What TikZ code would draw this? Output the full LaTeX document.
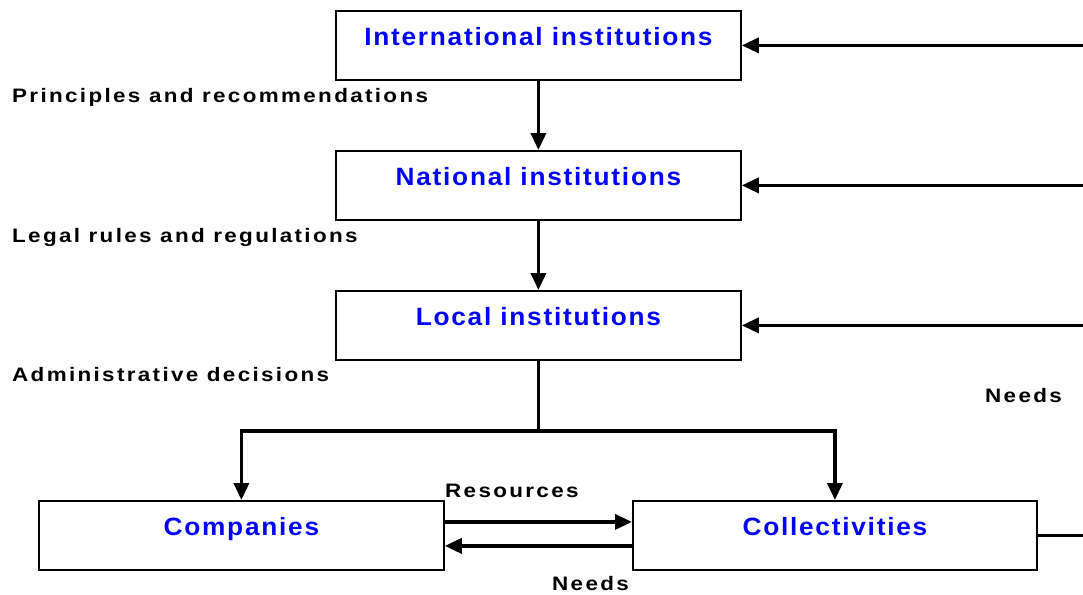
\documentclass[tikz,border=0pt]{standalone}
\usepackage{fontspec}
\setmainfont{Liberation Sans}
\newfontfamily\boxfont[LetterSpace=7,FakeStretch=1.05]{Liberation Sans Bold}
\newfontfamily\labfont[LetterSpace=12,FakeStretch=1.15]{Liberation Sans Bold}
\usetikzlibrary{arrows.meta}
\definecolor{boxblue}{RGB}{0,0,255}
\tikzset{
  inst/.style={draw=black, line width=1.8pt, fill=white, inner sep=0pt,
    minimum width=405pt, text height=35pt, text depth=34pt,
    anchor=north west, font=\boxfont\fontsize{25}{25}\selectfont, text=boxblue},
  lab/.style={anchor=base west, inner sep=0pt, font=\labfont\fontsize{19.5}{19.5}\selectfont},
  conn/.style={line width=3.5pt, draw=black},
  arr/.style={conn, -{Triangle[length=17pt,width=15pt]}},
}
\begin{document}
\begin{tikzpicture}[x=1pt,y=-1pt]
\useasboundingbox (0,0) rectangle (1083,594);
\coordinate (rx) at (1100,0);
\node[inst] (intl) at (335,10) {International institutions};
\node[inst] (nat) at (335,150) {National institutions};
\node[inst] (loc) at (335,290) {Local institutions};
\node[inst] (comp) at (38,500) {Companies};
\node[inst, minimum width=404pt] (coll) at (632,500) {Collectivities};

\node[lab] (l1) at (12,102) {Principles and recommendations};
\node[lab] (l2) at (12,242) {Legal rules and regulations};
\node[lab] (l3) at (12,381) {Administrative decisions};
\node[lab] (l4) at (985,402) {Needs};
\node[lab] (l5) at (445,497) {Resources};
\node[lab] (l6) at (552,590) {Needs};

\draw[arr] (intl.south) -- (nat.north);
\draw[arr] (nat.south) -- (loc.north);
\draw[conn] (loc.south) -- ++(0,70) coordinate (split);
\draw[arr] (split) -| (comp.north);
\draw[arr] (split) -| (coll.north);

\draw[arr] (intl.east -| rx) -- (intl.east);
\draw[arr] (nat.east -| rx) -- (nat.east);
\draw[arr] (loc.east -| rx) -- (loc.east);
\draw[conn] (coll.east) -- (coll.east -| rx);

\draw[arr] ([yshift=13.5pt]comp.east) -- ([yshift=13.5pt]comp.east -| coll.west);
\draw[arr] ([yshift=-10.5pt]coll.west) -- ([yshift=-10.5pt]coll.west -| comp.east);
\end{tikzpicture}
\end{document}
